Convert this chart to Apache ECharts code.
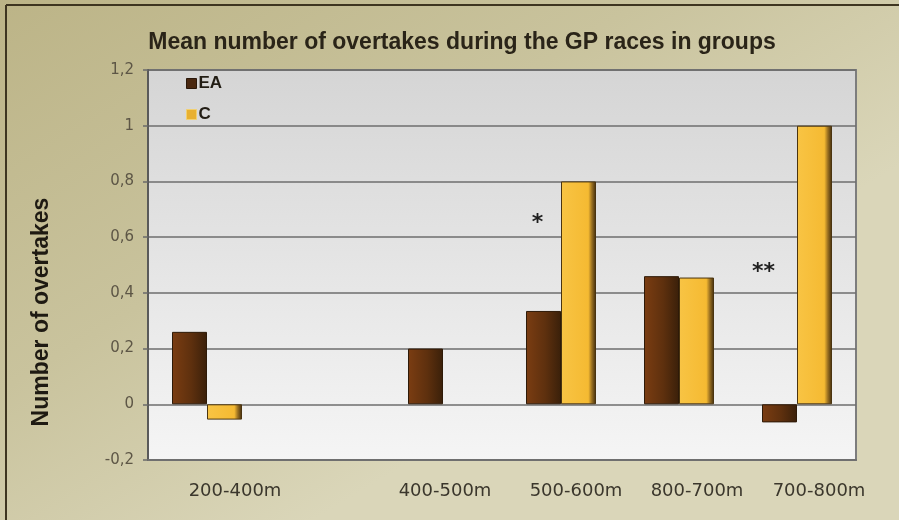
<!DOCTYPE html>
<html>
<head>
<meta charset="utf-8">
<script src="https://cdn.jsdelivr.net/npm/echarts@6/dist/echarts.min.js"></script>
<style>
  html, body { margin: 0; padding: 0; background: #c6bf95; }
  #chart { width: 899px; height: 520px; }
</style>
</head>
<body>
<div id="chart"></div>
<script>
// Distance groups (the second slot is an empty spacer group)
const categories = ['200-400m', '', '400-500m', '500-600m', '800-700m', '700-800m'];
const seriesEA = [0.26, null, 0.2, 0.335, 0.46, -0.065];
const seriesC = [-0.055, null, null, 0.8, 0.455, 1.0];
const yTicks = { min: -0.2, max: 1.2, step: 0.2 };
// Significance markers: [group, height, text, horizontal shift from the EA bar]
const significance = [['500-600m', 0.665, '*', -6], ['700-800m', 0.49, '**', -16]];
// Group labels sit slightly right of their slots (pixels)
const labelShift = [28, 0, 2, 15, 18, 22];

const chart = echarts.init(document.getElementById('chart'), null, { renderer: 'canvas' });

const hGrad = stops => new echarts.graphic.LinearGradient(0, 0, 1, 0,
  stops.map(s => ({ offset: s[0], color: s[1] })));

const eaFill = hGrad([[0, '#7b3d12'], [0.55, '#5e300e'], [1, '#3a200a']]);
const cFill = hGrad([[0, '#f8c444'], [0.78, '#f5ba32'], [0.88, '#9a7021'], [1, '#3f2b0d']]);

chart.setOption({
  backgroundColor: new echarts.graphic.LinearGradient(0, 0, 0.35, 1, [
    { offset: 0, color: '#bcb487' },
    { offset: 0.55, color: '#c9c39d' },
    { offset: 1, color: '#dad6b9' }
  ]),
  animation: false,
  title: {
    text: 'Mean number of overtakes during the GP races in groups',
    left: 457,
    textAlign: 'center',
    top: 26,
    textStyle: {
      fontFamily: 'Liberation Sans',
      fontWeight: 'bold',
      fontSize: 23,
      color: '#2a2418'
    }
  },
  legend: {
    orient: 'vertical',
    left: 181,
    top: 70,
    itemWidth: 10,
    itemHeight: 10,
    itemGap: 14,
    icon: 'rect',
    textStyle: {
      fontFamily: 'Liberation Sans',
      fontWeight: 'bold',
      fontSize: 17,
      color: '#221d14',
      padding: [0, 0, 0, -3]
    },
    data: [
      { name: 'EA', itemStyle: { color: '#4a2810', borderColor: '#2a180a', borderWidth: 1 } },
      { name: 'C', itemStyle: { color: '#e8b030', borderColor: '#f2d070', borderWidth: 1 } }
    ]
  },
  grid: {
    left: 148,
    right: 43,
    top: 70,
    bottom: 60,
    show: true,
    backgroundColor: new echarts.graphic.LinearGradient(0, 0, 0, 1, [
      { offset: 0, color: '#d5d5d5' },
      { offset: 1, color: '#f5f5f5' }
    ]),
    borderColor: '#7d7d7d',
    borderWidth: 2
  },
  xAxis: {
    type: 'category',
    data: categories.map((c, i) => ({
      value: c,
      textStyle: { padding: [0, 0, 0, 2 * labelShift[i]] }
    })),
    axisLine: { onZero: false, lineStyle: { color: '#6f6f6f', width: 2 } },
    axisTick: { show: false },
    axisLabel: {
      interval: 0,
      margin: 22,
      fontFamily: 'DejaVu Sans',
      fontSize: 18,
      color: '#3b372c'
    }
  },
  yAxis: {
    type: 'value',
    min: yTicks.min,
    max: yTicks.max,
    interval: yTicks.step,
    axisLine: { show: true, lineStyle: { color: '#5a5a5a', width: 2 } },
    axisTick: { show: true, length: 5, lineStyle: { color: '#6a6a6a', width: 1.5 } },
    splitLine: { lineStyle: { color: '#6e6e6e', width: 1.5 } },
    axisLabel: {
      margin: 14,
      fontFamily: 'DejaVu Sans',
      fontSize: 15,
      color: '#5d5646',
      formatter: v => String(Math.round(v * 10) / 10).replace('.', ',')
    }
  },
  series: [
    {
      name: 'EA',
      type: 'bar',
      data: seriesEA,
      barWidth: 35,
      barGap: '0%',
      itemStyle: { color: eaFill, borderColor: '#2e1a08', borderWidth: 1 },
      markPoint: {
        symbol: 'circle',
        symbolSize: 0,
        silent: true,
        data: significance.map(s => ({
          coord: [s[0], s[1]],
          label: {
            show: true,
            formatter: s[2],
            offset: [s[3], 4],
            fontFamily: 'DejaVu Sans',
            fontWeight: 'bold',
            fontSize: 22,
            color: '#1f1f1f'
          }
        }))
      }
    },
    {
      name: 'C',
      type: 'bar',
      data: seriesC,
      barWidth: 35,
      barGap: '0%',
      itemStyle: { color: cFill, borderColor: '#4a3410', borderWidth: 1 }
    }
  ],
  graphic: [
    // dark frame along the top and left edges of the panel
    { type: 'line', shape: { x1: 6, y1: 5, x2: 899, y2: 5 }, style: { stroke: '#3e3520', lineWidth: 2 } },
    { type: 'line', shape: { x1: 6, y1: 5, x2: 6, y2: 520 }, style: { stroke: '#3e3520', lineWidth: 2 } },
    // value axis title
    {
      type: 'text',
      x: 42,
      y: 312,
      rotation: Math.PI / 2,
      style: {
        text: 'Number of overtakes',
        align: 'center',
        verticalAlign: 'middle',
        fontFamily: 'Liberation Sans',
        fontWeight: 'bold',
        fontSize: 23,
        fill: '#1e1a12'
      }
    }
  ]
});
</script>
</body>
</html>
